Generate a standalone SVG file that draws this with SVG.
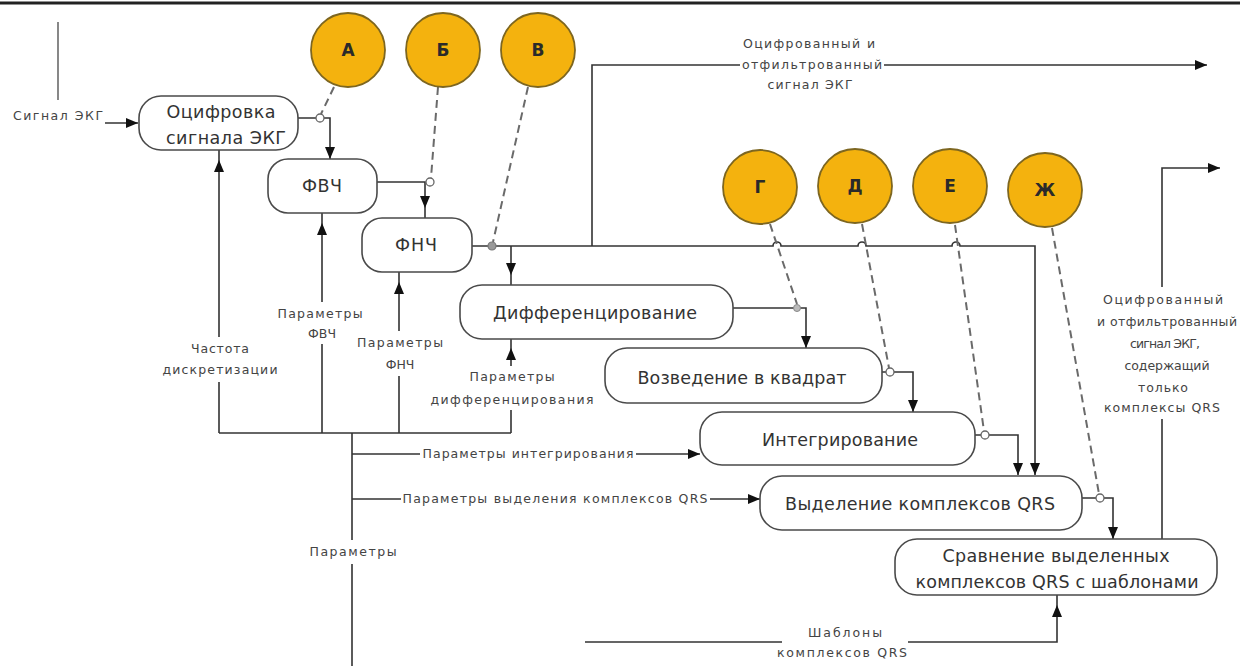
<svg xmlns="http://www.w3.org/2000/svg" width="1240" height="666" viewBox="0 0 1240 666">
<defs>
<marker id="arr" markerUnits="userSpaceOnUse" markerWidth="12" markerHeight="10" viewBox="0 0 12 10" refX="12" refY="5" orient="auto"><path d="M0,0 L12,5 L0,10 Z" fill="#111"/></marker>
<marker id="arrOff" markerUnits="userSpaceOnUse" markerWidth="24" markerHeight="10" viewBox="0 0 24 10" refX="22" refY="5" orient="auto"><path d="M0,0 L12,5 L0,10 Z" fill="#111"/></marker>
</defs>
<style>
.node rect{fill:#fff;stroke:#4a4a4a;stroke-width:1.6}
.nt{font-family:"DejaVu Sans","Liberation Sans",sans-serif;font-size:17.5px;fill:#333;text-anchor:middle}
.lt{font-family:"DejaVu Sans","Liberation Sans",sans-serif;font-size:12.5px;fill:#444;text-anchor:middle}
.ct{font-family:"DejaVu Sans","Liberation Sans",sans-serif;font-size:17px;font-weight:bold;fill:#2a2a2a;text-anchor:middle}
.circ circle{fill:#F4B20E;stroke:#7d6620;stroke-width:1.8}
.ln{fill:none;stroke:#333;stroke-width:1.6}
.dash{fill:none;stroke:#6a6a6a;stroke-width:2;stroke-dasharray:8 5}
.jn{fill:#fff;stroke:#666;stroke-width:1.3}
</style>
<rect width="1240" height="666" fill="#fff"/>
<line x1="0" y1="3" x2="1240" y2="3" stroke="#222" stroke-width="3"/>
<line x1="58" y1="22" x2="58" y2="100" stroke="#555" stroke-width="1.4"/>

<g id="connectors">
<path class="ln" d="M105,123 H138" marker-end="url(#arr)"/>
<path class="ln" d="M298,118 H330 V159" marker-end="url(#arr)"/>
<path class="ln" d="M377,182 H425 V218" marker-end="url(#arrOff)"/>
<path class="ln" d="M472,246 H773 a4,4 0 0 1 8,0 H858 a4,4 0 0 1 8,0 H952 a4,4 0 0 1 8,0 H1035 V475" marker-end="url(#arr)"/>
<path class="ln" d="M511,246 V285" marker-end="url(#arrOff)"/>
<path class="ln" d="M592,246 V65 H740 M884,65 H1207" marker-end="url(#arr)"/>
<path class="ln" d="M733,308 H806 V348" marker-end="url(#arr)"/>
<path class="ln" d="M882,372 H913 V412" marker-end="url(#arr)"/>
<path class="ln" d="M975,435 H1018 V475" marker-end="url(#arr)"/>
<path class="ln" d="M1082,498 H1113 V539" marker-end="url(#arr)"/>
<path class="ln" d="M1162,539 V419 M1162,287 V168 H1220" marker-end="url(#arr)"/>
<path class="ln" d="M219,433 H511"/>
<path class="ln" d="M219,433 V382 M219,337 V150" marker-end="url(#arrOff)"/>
<path class="ln" d="M322,433 V344 M322,302 V213" marker-end="url(#arrOff)"/>
<path class="ln" d="M399,433 V376 M399,331 V272" marker-end="url(#arrOff)"/>
<path class="ln" d="M511,433 V410 M511,366 V338" marker-end="url(#arrOff)"/>
<path class="ln" d="M352,433 V540 M352,564 V666"/>
<path class="ln" d="M352,454 H420 M636,454 H700" marker-end="url(#arr)"/>
<path class="ln" d="M352,499 H401 M710,499 H760" marker-end="url(#arr)"/>
<path class="ln" d="M585,642 H782 M908,642 H1057 V595" marker-end="url(#arrOff)"/>
<path class="dash" d="M334,87 L321,114"/>
<path class="dash" d="M438,87 L431,178"/>
<path class="dash" d="M528,87 L493,242"/>
<path class="dash" d="M770,224 L797,304"/>
<path class="dash" d="M862,224 L889,368"/>
<path class="dash" d="M955,225 L984,431"/>
<path class="dash" d="M1052,228 L1099,494"/>
<circle class="jn" cx="320" cy="118" r="4"/>
<circle class="jn" cx="430" cy="182" r="4"/>
<circle cx="492" cy="246" r="4" fill="#999" stroke="#777" stroke-width="1.2"/>
<circle cx="797" cy="308" r="3.5" fill="#bbb" stroke="#888" stroke-width="1"/>
<circle class="jn" cx="890" cy="372" r="4"/>
<circle class="jn" cx="985" cy="435" r="4"/>
<circle class="jn" cx="1100" cy="498" r="4"/>
<text class="lt" x="58" y="120" textLength="90" lengthAdjust="spacing">Сигнал  ЭКГ</text>
<text class="lt" x="809" y="48" textLength="132" lengthAdjust="spacing">Оцифрованный и</text>
<text class="lt" x="812" y="69" textLength="140" lengthAdjust="spacing">отфильтрованный</text>
<text class="lt" x="810" y="89" textLength="85" lengthAdjust="spacing">сигнал ЭКГ</text>
<text class="lt" x="1163" y="304" textLength="120" lengthAdjust="spacing">Оцифрованный</text>
<text class="lt" x="1167" y="326" textLength="140" lengthAdjust="spacing">и отфильтрованный</text>
<text class="lt" x="1165" y="348" textLength="70" lengthAdjust="spacing">сигнал ЭКГ,</text>
<text class="lt" x="1167" y="370" textLength="85" lengthAdjust="spacing">содержащий</text>
<text class="lt" x="1163" y="392" textLength="50" lengthAdjust="spacing">только</text>
<text class="lt" x="1162" y="412" textLength="116" lengthAdjust="spacing">комплексы QRS</text>
<text class="lt" x="220" y="353" textLength="58" lengthAdjust="spacing">Частота</text>
<text class="lt" x="220" y="374" textLength="115" lengthAdjust="spacing">дискретизации</text>
<text class="lt" x="320" y="318" textLength="85" lengthAdjust="spacing">Параметры</text>
<text class="lt" x="322" y="338">ФВЧ</text>
<text class="lt" x="400" y="347" textLength="86" lengthAdjust="spacing">Параметры</text>
<text class="lt" x="400" y="369">ФНЧ</text>
<text class="lt" x="512" y="381" textLength="85" lengthAdjust="spacing">Параметры</text>
<text class="lt" x="512" y="404" textLength="163" lengthAdjust="spacing">дифференцирования</text>
<text class="lt" x="528" y="458" textLength="211" lengthAdjust="spacing">Параметры интегрирования</text>
<text class="lt" x="555" y="503" textLength="305" lengthAdjust="spacing">Параметры выделения комплексов QRS</text>
<text class="lt" x="353" y="556" textLength="87" lengthAdjust="spacing">Параметры</text>
<text class="lt" x="845" y="637" textLength="74" lengthAdjust="spacing">Шаблоны</text>
<text class="lt" x="842" y="657" textLength="130" lengthAdjust="spacing">комплексов QRS</text>
</g>

<g id="n-ocifrovka" class="node"><rect x="139" y="96" width="159" height="54" rx="22"/><text class="nt" x="221" y="118" textLength="109" lengthAdjust="spacing">Оцифровка</text><text class="nt" x="226" y="144" textLength="120" lengthAdjust="spacing">сигнала ЭКГ</text></g>
<g id="n-fvch" class="node"><rect x="268" y="159" width="109" height="54" rx="20"/><text class="nt" x="322" y="192" font-size="15" textLength="40" lengthAdjust="spacing">ФВЧ</text></g>
<g id="n-fnch" class="node"><rect x="362" y="218" width="110" height="54" rx="20"/><text class="nt" x="416" y="251" font-size="15" textLength="42" lengthAdjust="spacing">ФНЧ</text></g>
<g id="n-diff" class="node"><rect x="460" y="285" width="273" height="54" rx="22"/><text class="nt" x="595" y="319" textLength="204" lengthAdjust="spacing">Дифференцирование</text></g>
<g id="n-kvadrat" class="node"><rect x="605" y="348" width="277" height="55" rx="22"/><text class="nt" x="742" y="384" textLength="209" lengthAdjust="spacing">Возведение в квадрат</text></g>
<g id="n-integr" class="node"><rect x="700" y="412" width="275" height="53" rx="22"/><text class="nt" x="840" y="446" textLength="156" lengthAdjust="spacing">Интегрирование</text></g>
<g id="n-vydel" class="node"><rect x="760" y="476" width="322" height="54" rx="22"/><text class="nt" x="920" y="510" textLength="270" lengthAdjust="spacing">Выделение комплексов QRS</text></g>
<g id="n-sravn" class="node"><rect x="895" y="539" width="322" height="56" rx="22"/><text class="nt" x="1056" y="562" textLength="227" lengthAdjust="spacing">Сравнение выделенных</text><text class="nt" x="1057" y="588" textLength="283" lengthAdjust="spacing">комплексов QRS с шаблонами</text></g>

<g id="c-A" class="circ"><circle cx="348" cy="50" r="37"/><text class="ct" x="348" y="56">А</text></g>
<g id="c-B" class="circ"><circle cx="443" cy="50" r="37"/><text class="ct" x="443" y="56">Б</text></g>
<g id="c-V" class="circ"><circle cx="538" cy="50" r="37"/><text class="ct" x="538" y="56">В</text></g>
<g id="c-G" class="circ"><circle cx="760" cy="187" r="37"/><text class="ct" x="760" y="193">Г</text></g>
<g id="c-D" class="circ"><circle cx="855" cy="186" r="37"/><text class="ct" x="855" y="192">Д</text></g>
<g id="c-E" class="circ"><circle cx="950" cy="186" r="37"/><text class="ct" x="950" y="192">Е</text></g>
<g id="c-Zh" class="circ"><circle cx="1045" cy="190" r="37"/><text class="ct" x="1045" y="196">Ж</text></g>
</svg>
